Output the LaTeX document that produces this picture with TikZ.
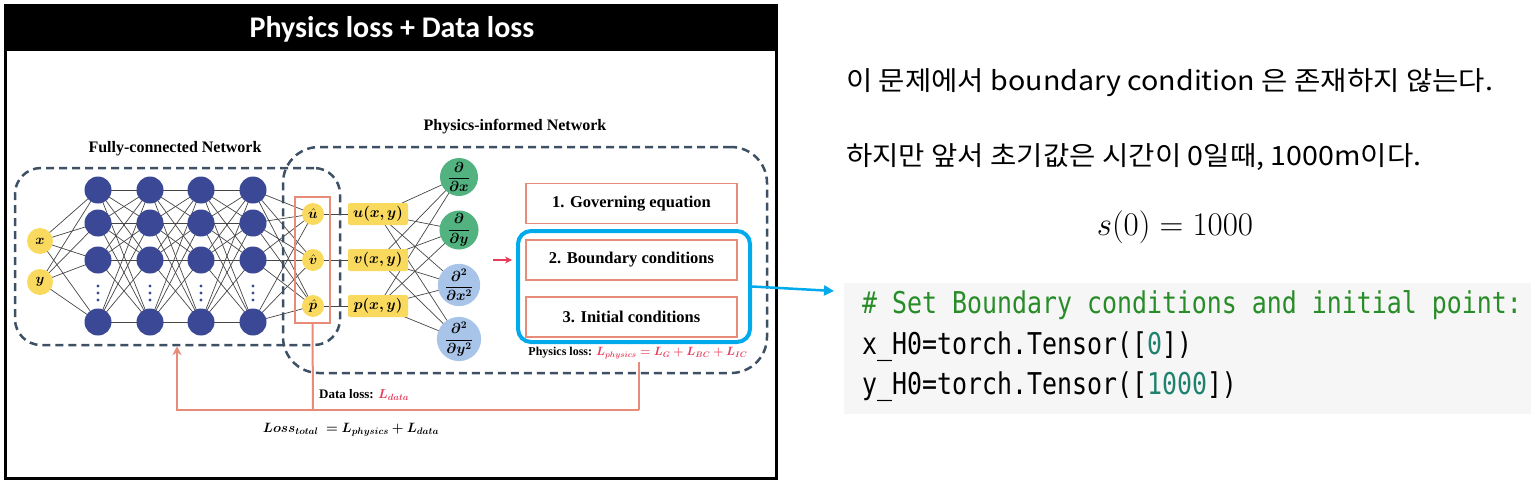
\RequirePackage{fix-cm}
\documentclass[tikz,border=0pt]{standalone}
\usepackage{amsmath,bm}
\usepackage{fontspec}
\setmainfont{Liberation Serif}
\newfontfamily\titlefont{Carlito}
\newfontfamily\krfont[FakeStretch=1.08]{Noto Sans CJK KR}
\newfontfamily\codefont[FakeStretch=0.83]{DejaVu Sans Mono}
\usetikzlibrary{backgrounds,arrows.meta}
\definecolor{nodeblue}{RGB}{58,72,150}
\definecolor{nyellow}{RGB}{250,218,94}
\definecolor{dgreen}{RGB}{82,178,128}
\definecolor{lblue}{RGB}{168,196,232}
\definecolor{salmon}{RGB}{232,140,122}
\definecolor{dashgray}{RGB}{62,80,100}
\definecolor{selcyan}{RGB}{0,170,235}
\definecolor{lossred}{RGB}{230,60,90}
\definecolor{codegreen}{RGB}{40,140,40}
\definecolor{codenum}{RGB}{30,130,110}
\definecolor{codebg}{RGB}{246,246,246}
\definecolor{edgegray}{RGB}{70,70,70}
\tikzset{
  inp/.style={circle,fill=nyellow,minimum size=26,inner sep=0},
  hid/.style={circle,fill=nodeblue,minimum size=27,inner sep=0},
  vdot/.style={circle,fill=nodeblue,minimum size=3.2,inner sep=0},
  outn/.style={circle,fill=nyellow,minimum size=22,inner sep=0},
  ybox/.style={fill=nyellow,rounded corners=2,minimum width=60,minimum height=22,inner sep=0,font=\fontsize{15}{16}\selectfont},
  dcirc/.style={circle,minimum size=38,inner sep=0,font=\fontsize{14.5}{15}\selectfont},
  cbox/.style={draw=salmon,line width=1.5,minimum width=211,minimum height=40,inner sep=0,font=\fontsize{16.5}{18}\selectfont\bfseries},
  dashbox/.style={draw=dashgray,line width=2.5,dash pattern=on 8 off 5,inner sep=0},
  edge/.style={draw=edgegray,line width=0.7},
  fb/.style={draw=salmon,line width=2},
  lbl/.style={font=\fontsize{16}{18}\selectfont\bfseries,inner sep=0},
}
\begin{document}
\begin{tikzpicture}[x=1pt,y=-1pt,font=\fontsize{14}{16}\selectfont]
\useasboundingbox (0,0) rectangle (1531,482);
% frame
\fill[black] (4,4) rectangle (777,51);
\draw[black,line width=3] (5,5) rectangle (776,478);
\node[text=white,font=\titlefont\fontsize{30}{33}\selectfont\bfseries] (title) at (392,29) {Physics loss + Data loss};

% labels
\node[lbl] (fcnlbl) at (175,149) {Fully-connected Network};
\node[lbl] (pinlbl) at (515,127) {Physics-informed Network};

% dashed boxes
\node[dashbox,rounded corners=26,minimum width=325,minimum height=177] (fcn) at (177.5,256.5) {};
\node[dashbox,rounded corners=36,minimum width=484,minimum height=226] (pin) at (525,260) {};

% inputs
\node[inp] (x) at (40,241) {$\bm{x}$};
\node[inp] (y) at (40,282) {$\bm{y}$};

% hidden layers
\foreach \c/\xx in {1/98,2/150,3/201,4/253}{
  \foreach \r/\yy in {1/190,2/223,3/260,4/322}{
    \node[hid] (h\c\r) at (\xx,\yy) {};
  }
  \node[vdot] (da\c) at (\xx,286) {};
  \node[vdot] (db\c) at (\xx,293) {};
  \node[vdot] (dc\c) at (\xx,300) {};
}

% outputs
\node[draw=salmon,line width=1.5,minimum width=35,minimum height=126,inner sep=0] (outbox) at (312.5,260) {};
\node[outn] (ou) at (313,214) {$\hat{\bm u}$};
\node[outn] (ov) at (313,260) {$\hat{\bm v}$};
\node[outn] (op) at (313,306) {$\hat{\bm p}$};

% yellow boxes
\node[ybox] (bu) at (378,214) {$\bm{u(x,y)}$};
\node[ybox] (bv) at (378,260) {$\bm{v(x,y)}$};
\node[ybox] (bp) at (378,306) {$\bm{p(x,y)}$};

% derivative circles
\node[dcirc,fill=dgreen] (dx) at (459,177) {$\displaystyle\frac{\bm\partial}{\bm{\partial x}}$};
\node[dcirc,fill=dgreen] (dy) at (459,230) {$\displaystyle\frac{\bm\partial}{\bm{\partial y}}$};
\node[dcirc,fill=lblue] (dxx) at (459,285) {$\displaystyle\frac{\bm{\partial^2}}{\bm{\partial x^2}}$};
\node[dcirc,fill=lblue] (dyy) at (459,339) {$\displaystyle\frac{\bm{\partial^2}}{\bm{\partial y^2}}$};

% edges
\begin{scope}[on background layer]
  \foreach \i in {x,y}{\foreach \r in {1,2,3,4}{\draw[edge] (\i.center) -- (h1\r.center);}}
  \foreach \c/\n in {1/2,2/3,3/4}{
    \foreach \r in {1,2,3,4}{\foreach \s in {1,2,3,4}{\draw[edge] (h\c\r.center) -- (h\n\s.center);}}}
  \foreach \r in {1,2,3,4}{\foreach \o in {ou,ov,op}{\draw[edge] (h4\r.center) -- (\o.center);}}
  \draw[edge] (ou.center) -- (bu.center);
  \draw[edge] (ov.center) -- (bv.center);
  \draw[edge] (op.center) -- (bp.center);
  \foreach \b in {bu,bv,bp}{\foreach \d in {dx,dy,dxx,dyy}{\draw[edge] (\b.center) -- (\d.center);}}
\end{scope}

% condition boxes
\node[cbox] (gov) at (631.5,203.5) {1. Governing equation};
\node[cbox] (bc) at (631.5,260) {2. Boundary conditions};
\node[cbox] (ic) at (631.5,317) {3. Initial conditions};
\node[draw=selcyan,line width=4,rounded corners=13,minimum width=232,minimum height=111,inner sep=0] (sel) at (634,286.5) {};

% red arrow
\coordinate (ra1) at (493,260);
\coordinate (ra2) at (512,260);
\draw[lossred,line width=2,-{Stealth[length=7,width=7]}] (ra1) -- (ra2);

% physics loss
\node[inner sep=1,font=\fontsize{12}{14}\selectfont\bfseries] (pl) at (638,353) {Physics loss: {\color{lossred}$\bm{L_{physics} = L_G + L_{BC} + L_{IC}}$}};

% feedback
\coordinate (j1) at (313,410);
\coordinate (j2) at (639,410);
\coordinate (j0) at (177,410);
\coordinate (pls) at (639,362);
\draw[fb] (outbox.south) -- (j1);
\draw[fb] (pls) -- (j2);
\draw[fb,-{Stealth[length=9,width=9]}] (j2) -- (j0) -- (fcn.south -| j0);
\node[anchor=west,inner sep=0,font=\fontsize{13}{14}\selectfont\bfseries] (dl) at (319,395) {Data loss: {\color{lossred}$\bm{L_{data}}$}};
\node[inner sep=0,font=\fontsize{13.5}{15}\selectfont] (lt) at (351,430) {$\bm{Loss_{total} \;= L_{physics} + L_{data}}$};

% blue connector
\coordinate (cp) at (834,291);
\draw[selcyan,line width=2.5,-{Triangle[length=10,width=10]}] (sel.east) -- (cp);

% right side text
\node[anchor=west,inner sep=0,font=\krfont\fontsize{26.5}{30}\selectfont] (t1) at (846,83) {이 문제에서 boundary condition 은 존재하지 않는다.};
\node[anchor=west,inner sep=0,font=\krfont\fontsize{26.5}{30}\selectfont] (t2) at (846,157) {하지만 앞서 초기값은 시간이 0일때, 1000m이다.};
\node[inner sep=0,font=\fontsize{33}{36}\selectfont] (eq) at (1175,227) {$s(0) = 1000$};

% code
\node[fill=codebg,anchor=north west,minimum width=687,minimum height=131,inner sep=0] (code) at (844,283) {};
\node[anchor=west,inner sep=0,font=\codefont\fontsize{30}{32}\selectfont,text=codegreen] (c1) at (862,305) {\# Set Boundary conditions and initial point:};
\node[anchor=west,inner sep=0,font=\codefont\fontsize{30}{32}\selectfont] (c2) at (862,347) {x\_H0=torch.Tensor([{\color{codenum}0}])};
\node[anchor=west,inner sep=0,font=\codefont\fontsize{30}{32}\selectfont] (c3) at (862,387) {y\_H0=torch.Tensor([{\color{codenum}1000}])};
\end{tikzpicture}
\end{document}
